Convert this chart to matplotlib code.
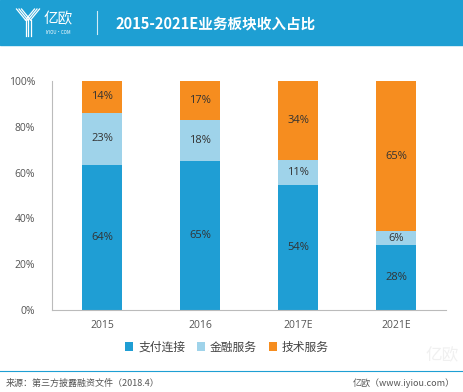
import numpy as np
import matplotlib
matplotlib.use("Agg")
import matplotlib.pyplot as plt
from matplotlib.patches import Rectangle

plt.rcParams['font.family'] = ['Noto Sans CJK SC', 'DejaVu Sans']

years = ["2015", "2016", "2017E", "2021E"]
series_names = ["支付连接", "金融服务", "技术服务"]
pay = [64, 65, 54, 28]
finance = [23, 18, 11, 6]
tech = [14, 17, 34, 65]
colors = ["#1F9ED4", "#9FD3EA", "#F68D1F"]
yticks = [0, 20, 40, 60, 80, 100]

W, H = 463, 392
fig = plt.figure(figsize=(W / 100, H / 100), dpi=100)

# header band
fig.patches.append(Rectangle((0, 1 - 45 / H), 1, 45 / H, transform=fig.transFigure,
                             color="#1E9FD3", zorder=0))
fig.text(115 / W, 1 - 23 / H, "2015-2021E业务板块收入占比", color="white",
         fontsize=10.5, fontweight="bold", va="center", ha="left")
fig.text(44 / W, 1 - 19 / H, "亿欧", color="white", fontsize=10.5, va="center", ha="left")
fig.text(45 / W, 1 - 32 / H, "IYIOU·COM", color="white", fontsize=3.2, va="center", ha="left")
fig.lines.append(plt.Line2D([97 / W, 97 / W], [1 - 11 / H, 1 - 34 / H],
                            transform=fig.transFigure, color="white", lw=0.8, alpha=0.8))
# simple Y logo
for dx in (-2.5, 0, 2.5):
    fig.lines.append(plt.Line2D([(28 + dx) / W, (28 + dx) / W], [1 - 20 / H, 1 - 36 / H],
                                transform=fig.transFigure, color="white", lw=0.9))
    fig.lines.append(plt.Line2D([(19 + dx) / W, (28 + dx) / W], [1 - 9 / H, 1 - 20 / H],
                                transform=fig.transFigure, color="white", lw=0.9))
    fig.lines.append(plt.Line2D([(37 + dx) / W, (28 + dx) / W], [1 - 9 / H, 1 - 20 / H],
                                transform=fig.transFigure, color="white", lw=0.9))

ax = fig.add_axes([52 / W, 1 - 310 / H, (446 - 52) / W, (310 - 81) / H])
x = np.arange(len(years))
data = np.array([pay, finance, tech], dtype=float)
frac = data / data.sum(axis=0) * 100
bottom = np.zeros(len(years))
for i, name in enumerate(series_names):
    ax.bar(x, frac[i], 0.41, bottom=bottom, color=colors[i], label=name, zorder=2)
    for j in range(len(years)):
        ax.text(x[j], bottom[j] + frac[i][j] / 2, f"{int(data[i][j])}%", ha="center",
                va="center", fontsize=8, color="#333333", family=["Open Sans", "DejaVu Sans"])
    bottom += frac[i]

ax.set_xlim(-0.51, 3.51)
ax.set_ylim(0, 100)
ax.set_yticks(yticks)
ax.set_yticklabels([f"{v}%" for v in yticks], family=["Open Sans", "DejaVu Sans"])
ax.set_xticks(x)
ax.set_xticklabels(years, family=["Open Sans", "DejaVu Sans"])
ax.tick_params(length=0, labelsize=7.5, labelcolor="#555555")
ax.tick_params(axis="y", pad=12)
ax.tick_params(axis="x", pad=7)
for s in ("top", "right"):
    ax.spines[s].set_visible(False)
for s in ("left", "bottom"):
    ax.spines[s].set_color("#BBBBBB")
    ax.spines[s].set_linewidth(0.8)

leg = fig.legend(loc="center", bbox_to_anchor=(227 / W, 1 - 347 / H), ncol=3, frameon=False,
                 fontsize=8.5, handlelength=0.7, handleheight=0.7, handletextpad=0.4,
                 columnspacing=1.0, labelcolor="#444444")

# footer
fig.lines.append(plt.Line2D([0, 1], [1 - 371 / H, 1 - 371 / H], transform=fig.transFigure,
                            color="#1E9FD3", lw=0.8))
fig.text(6 / W, 1 - 383 / H, "来源：第三方披露融资文件（2018.4）", fontsize=6.5,
         color="#555555", va="center", ha="left")
fig.text(455 / W, 1 - 383 / H, "亿欧（www.iyiou.com）", fontsize=6.5,
         color="#555555", va="center", ha="right")
fig.text(425 / W, 1 - 356 / H, "亿欧", fontsize=12, color="#F0F0F0", va="center",
         ha="left", zorder=0)

fig.savefig("out.png", dpi=100)
